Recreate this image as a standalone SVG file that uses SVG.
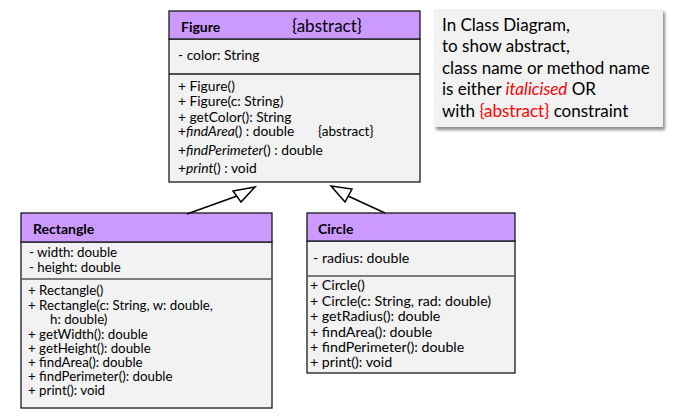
<svg xmlns="http://www.w3.org/2000/svg" width="683" height="417" viewBox="0 0 683 417">
<defs>
<style>
text{font-family:Lato,"Open Sans","Liberation Sans",sans-serif;fill:#000;}
.t{font-size:13.8px;}
.r{font-size:13.3px;}
.c{font-size:14.2px;}
.b{font-size:14px;font-weight:bold;}
.hdr{fill:#cc99ff;stroke:#1a1a1a;stroke-width:1.3;}
.body{fill:#f2f2f2;stroke:#1a1a1a;stroke-width:1.3;}
.note{font-size:17px;}
.red{fill:#ff0000;}
.i{font-style:italic;}
.conn line{stroke:#000;stroke-width:1.5;}
.conn polygon{fill:#fff;stroke:#000;stroke-width:1.5;stroke-linejoin:miter;}
</style>
<filter id="sh" x="-10%" y="-10%" width="120%" height="130%">
<feGaussianBlur in="SourceAlpha" stdDeviation="1.5"/>
<feOffset dx="2" dy="3"/>
<feComponentTransfer><feFuncA type="linear" slope="0.45"/></feComponentTransfer>
<feMerge><feMergeNode/><feMergeNode in="SourceGraphic"/></feMerge>
</filter>
</defs>
<rect width="683" height="417" fill="#fff"/>

<g id="figure">
<rect class="body" x="169" y="39" width="251" height="143"/>
<rect class="hdr" x="169" y="11" width="251" height="28"/>
<line x1="169" y1="74" x2="420" y2="74" stroke="#1a1a1a" stroke-width="1.3"/>
<text class="b" x="181" y="32">Figure</text>
<text x="292" y="32" style="font-size:17px">{abstract}</text>
<text class="t" x="178" y="60">- color: String</text>
<text class="t" x="178" y="91">+ Figure()</text>
<text class="t" x="178" y="106">+ Figure(c: String)</text>
<text class="t" x="178" y="122">+ getColor(): String</text>
<text class="t" x="178" y="136">+<tspan class="i">findArea</tspan>() : double</text>
<text x="318" y="136" style="font-size:13.5px">{abstract}</text>
<text class="t" x="178" y="155">+<tspan class="i">findPerimeter</tspan>() : double</text>
<text class="t" x="178" y="173">+<tspan class="i">print</tspan>() : void</text>
</g>

<g id="note">
<rect x="434" y="9" width="229" height="118" fill="#f2f2f2" filter="url(#sh)"/>
<text class="note" x="442" y="31">In Class Diagram,</text>
<text class="note" x="442" y="52">to show abstract,</text>
<text class="note" x="442" y="74">class name or method name</text>
<text class="note" x="442" y="95">is either <tspan class="red i">italicised</tspan> OR</text>
<text class="note" x="442" y="117">with <tspan class="red">{abstract}</tspan> constraint</text>
</g>

<g id="rectangle">
<rect class="body" x="21" y="242" width="251" height="166"/>
<rect class="hdr" x="21" y="213" width="251" height="29"/>
<line x1="21" y1="279" x2="272" y2="279" stroke="#555" stroke-width="1.3"/>
<text class="b" x="33" y="234">Rectangle</text>
<text class="r" x="29" y="257">- width: double</text>
<text class="r" x="29" y="272">- height: double</text>
<text class="r" x="28" y="295">+ Rectangle()</text>
<text class="r" x="28" y="310">+ Rectangle(c: String, w: double,</text>
<text class="r" x="50" y="324">h: double)</text>
<text class="r" x="28" y="339">+ getWidth(): double</text>
<text class="r" x="28" y="353">+ getHeight(): double</text>
<text class="r" x="28" y="367">+ findArea(): double</text>
<text class="r" x="28" y="381">+ findPerimeter(): double</text>
<text class="r" x="28" y="395">+ print(): void</text>
</g>

<g id="circle">
<rect class="body" x="307" y="241" width="208" height="132"/>
<rect class="hdr" x="307" y="213" width="208" height="28"/>
<line x1="307" y1="276" x2="515" y2="276" stroke="#555" stroke-width="1.3"/>
<text class="b" x="318" y="234">Circle</text>
<text class="c" x="313" y="263">- radius: double</text>
<text class="c" x="310" y="290">+ Circle()</text>
<text class="c" x="310" y="306">+ Circle(c: String, rad: double)</text>
<text class="c" x="310" y="321">+ getRadius(): double</text>
<text class="c" x="310" y="337">+ findArea(): double</text>
<text class="c" x="310" y="352">+ findPerimeter(): double</text>
<text class="c" x="310" y="367">+ print(): void</text>
</g>

<g id="connectors" class="conn">
<line x1="187" y1="214" x2="237" y2="196"/>
<polygon points="255,187 233,191 241,202"/>
<line x1="385" y1="213" x2="348" y2="196"/>
<polygon points="331,186 352,189 345,202"/>
</g>
</svg>
